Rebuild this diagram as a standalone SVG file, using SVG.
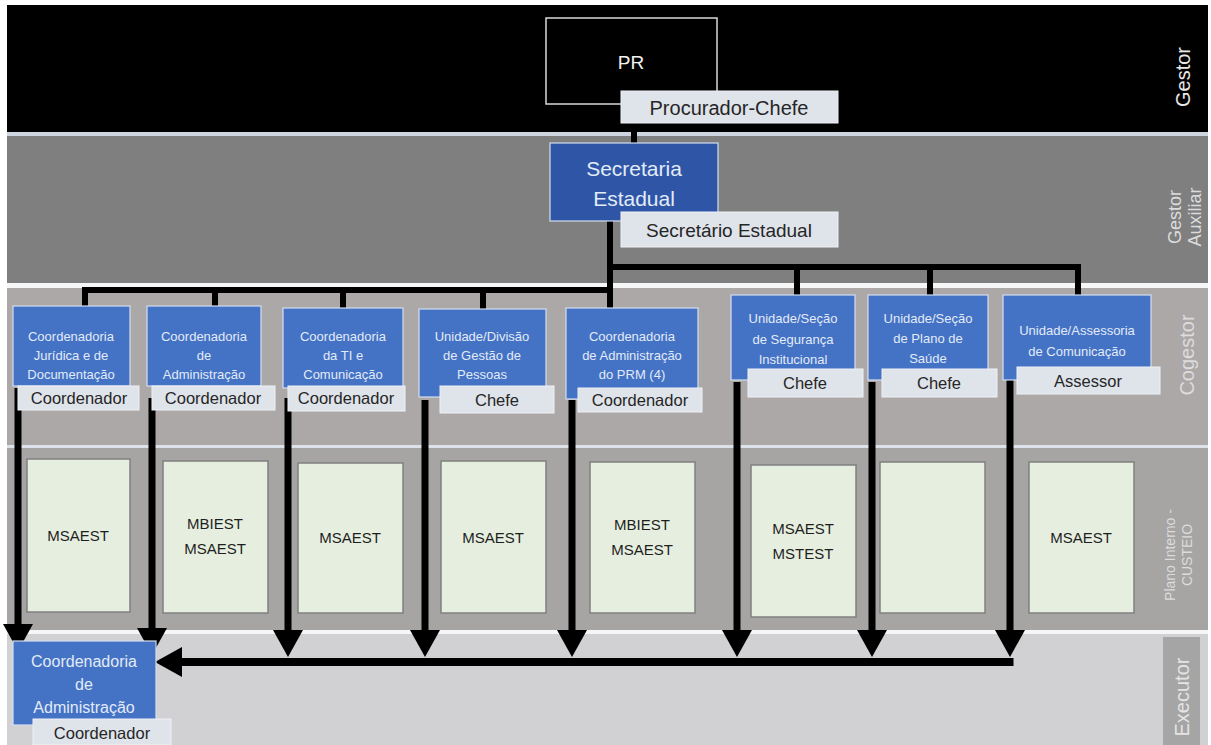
<svg xmlns="http://www.w3.org/2000/svg" width="1211" height="745" viewBox="0 0 1211 745">
<style>
.band-lbl{font-family:"Liberation Sans",Arial,sans-serif;fill:#dcdcdc;text-anchor:middle;dominant-baseline:central}
.bx{fill:#4472c4;stroke:#d3def1;stroke-width:1.2}
.bt{font-family:"Liberation Sans",Arial,sans-serif;font-size:13px;fill:#e2ebf8;text-anchor:middle;dominant-baseline:central}
.lb{fill:#dfe3ea;stroke:#eef1f5;stroke-width:1}
.lt{font-family:"Liberation Sans",Arial,sans-serif;font-size:16.5px;fill:#262626;text-anchor:middle;dominant-baseline:central}
.gb{fill:#e6efdf;stroke:#808080;stroke-width:1.5}
.gt{font-family:"Liberation Sans",Arial,sans-serif;font-size:15px;fill:#1e1e1e;text-anchor:middle;dominant-baseline:central}
.ln{stroke:#000;stroke-width:6;fill:none}
.ar{stroke:#000;stroke-width:7;fill:none;marker-end:url(#ah)}
</style>
<defs>
<marker id="ah" markerUnits="userSpaceOnUse" markerWidth="28" markerHeight="30" refX="0" refY="15" orient="auto" viewBox="0 0 28 30">
<path d="M0,0 L27,15 L0,30 Z" fill="#000"/>
</marker>
</defs>
<rect x="0" y="0" width="1211" height="745" fill="#ffffff"/>
<g id="bands">
<rect x="7" y="5" width="1201" height="127" fill="#000000"/>
<rect x="7" y="132" width="1201" height="4" fill="#cdd5e0"/>
<rect x="7" y="136" width="1201" height="147" fill="#7f7f7f"/>
<rect x="7" y="283" width="1201" height="5" fill="#f4f6f8"/>
<rect x="7" y="288" width="1201" height="157" fill="#aca8a8"/>
<rect x="7" y="445" width="1201" height="3" fill="#dde2ea"/>
<rect x="7" y="448" width="1201" height="182" fill="#a7a4a4"/>
<rect x="7" y="630" width="1201" height="4" fill="#f4f6f8"/>
<rect x="7" y="634" width="1201" height="111" fill="#d1d0d2"/>
<rect x="1163" y="637" width="37" height="108" fill="#a5a5a5"/>
<text class="band-lbl" style="font-size:20px;fill:#e8e8e8" transform="translate(1183,77) rotate(-90)">Gestor</text>
<text class="band-lbl" style="font-size:18px" transform="translate(1185,217) rotate(-90)"><tspan x="0" y="-10">Gestor</tspan><tspan x="0" y="10">Auxiliar</tspan></text>
<text class="band-lbl" style="font-size:20px" transform="translate(1187,355) rotate(-90)">Cogestor</text>
<text class="band-lbl" style="font-size:14px" transform="translate(1178,555) rotate(-90)"><tspan x="0" y="-8">Plano Interno -</tspan><tspan x="0" y="9">CUSTEIO</tspan></text>
<text class="band-lbl" style="font-size:20px;fill:#e4e4e4" transform="translate(1182,697) rotate(-90)">Executor</text>
</g>
<g id="connectors">
<path class="ln" d="M634,120 V146"/>
<path class="ln" d="M610,221 V308"/>
<path class="ln" d="M607,267 H1081"/>
<path class="ln" d="M797,267 V296 M930,267 V296 M1078,267 V296"/>
<path class="ln" d="M82,290 H613"/>
<path class="ln" d="M85,290 V307 M215,290 V307 M343,290 V309 M483,290 V310"/>
<path class="ar" d="M18,388 V624"/>
<path class="ar" d="M152,398 V628"/>
<path class="ar" d="M288,398 V630"/>
<path class="ar" d="M425,400 V630"/>
<path class="ar" d="M572,400 V630"/>
<path class="ar" d="M737,382 V630"/>
<path class="ar" d="M872,382 V630"/>
<path class="ar" d="M1010,380 V630"/>
<path d="M1013.5,662 H182" stroke="#000" stroke-width="8" fill="none" marker-end="url(#ah)"/>
</g>
<g id="pr">
<rect x="546" y="18" width="171" height="86" fill="#000" stroke="#d9d9d9" stroke-width="1.5"/>
<text x="631" y="62" font-family="Liberation Sans,Arial,sans-serif" font-size="19" fill="#f2f2f2" text-anchor="middle" dominant-baseline="central">PR</text>
<rect class="lb" x="621" y="91" width="217" height="32"/>
<text class="lt" x="729" y="108" style="font-size:20px">Procurador-Chefe</text>
</g>
<g id="secretaria">
<rect x="550" y="143" width="168" height="78" fill="#2f56a6" stroke="#d3def1" stroke-width="1.2"/>
<text class="bt" x="634" y="168" style="font-size:21px">Secretaria</text>
<text class="bt" x="634" y="198" style="font-size:21px">Estadual</text>
<rect class="lb" x="621" y="212" width="217" height="35"/>
<text class="lt" x="729" y="230" style="font-size:19px">Secretário Estadual</text>
</g>
<g id="coord-juridica">
<rect class="bx" x="13" y="306" width="117" height="80"/>
<text class="bt" x="71" y="336">Coordenadoria</text>
<text class="bt" x="71" y="355">Jurídica e de</text>
<text class="bt" x="71" y="374">Documentação</text>
<rect class="lb" x="18" y="386" width="121" height="24"/>
<text class="lt" x="79" y="398">Coordenador</text>
</g>
<g id="coord-admin">
<rect class="bx" x="147" y="306" width="114" height="80"/>
<text class="bt" x="204" y="336">Coordenadoria</text>
<text class="bt" x="204" y="355">de</text>
<text class="bt" x="204" y="374">Administração</text>
<rect class="lb" x="152" y="386" width="123" height="24"/>
<text class="lt" x="213" y="398">Coordenador</text>
</g>
<g id="coord-ti">
<rect class="bx" x="283" y="308" width="120" height="80"/>
<text class="bt" x="343" y="336">Coordenadoria</text>
<text class="bt" x="343" y="355">da TI e</text>
<text class="bt" x="343" y="374">Comunicação</text>
<rect class="lb" x="288" y="386" width="117" height="25"/>
<text class="lt" x="346" y="398">Coordenador</text>
</g>
<g id="unid-pessoas">
<rect class="bx" x="419" y="309" width="127" height="88"/>
<text class="bt" x="482" y="336">Unidade/Divisão</text>
<text class="bt" x="482" y="355">de Gestão de</text>
<text class="bt" x="482" y="374">Pessoas</text>
<rect class="lb" x="440" y="386" width="114" height="27"/>
<text class="lt" x="497" y="400">Chefe</text>
</g>
<g id="coord-prm">
<rect class="bx" x="566" y="308" width="132" height="91"/>
<text class="bt" x="632" y="336">Coordenadoria</text>
<text class="bt" x="632" y="355">de Administração</text>
<text class="bt" x="632" y="374">do PRM (4)</text>
<rect class="lb" x="578" y="388" width="124" height="24"/>
<text class="lt" x="640" y="400">Coordenador</text>
</g>
<g id="unid-seguranca">
<rect class="bx" x="731" y="295" width="124" height="85"/>
<text class="bt" x="793" y="318">Unidade/Seção</text>
<text class="bt" x="793" y="339">de Segurança</text>
<text class="bt" x="793" y="359">Institucional</text>
<rect class="lb" x="748" y="369" width="115" height="28"/>
<text class="lt" x="805" y="383">Chefe</text>
</g>
<g id="unid-saude">
<rect class="bx" x="868" y="295" width="120" height="85"/>
<text class="bt" x="928" y="318">Unidade/Seção</text>
<text class="bt" x="928" y="338">de Plano de</text>
<text class="bt" x="928" y="358">Saúde</text>
<rect class="lb" x="882" y="369" width="115" height="28"/>
<text class="lt" x="939" y="383">Chefe</text>
</g>
<g id="unid-comunicacao">
<rect class="bx" x="1003" y="295" width="148" height="85"/>
<text class="bt" x="1077" y="330">Unidade/Assessoria</text>
<text class="bt" x="1077" y="351">de Comunicação</text>
<rect class="lb" x="1017" y="367" width="143" height="27"/>
<text class="lt" x="1088" y="381">Assessor</text>
</g>
<g id="pi-1"><rect class="gb" x="27" y="459" width="103" height="153"/><text class="gt" x="78" y="535">MSAEST</text></g>
<g id="pi-2"><rect class="gb" x="163" y="461" width="105" height="152"/><text class="gt" x="215" y="523">MBIEST</text><text class="gt" x="215" y="548">MSAEST</text></g>
<g id="pi-3"><rect class="gb" x="298" y="463" width="105" height="150"/><text class="gt" x="350" y="537">MSAEST</text></g>
<g id="pi-4"><rect class="gb" x="441" y="461" width="105" height="152"/><text class="gt" x="493" y="537">MSAEST</text></g>
<g id="pi-5"><rect class="gb" x="590" y="462" width="105" height="151"/><text class="gt" x="642" y="524">MBIEST</text><text class="gt" x="642" y="549">MSAEST</text></g>
<g id="pi-6"><rect class="gb" x="751" y="465" width="105" height="152"/><text class="gt" x="803" y="528">MSAEST</text><text class="gt" x="803" y="553">MSTEST</text></g>
<g id="pi-7"><rect class="gb" x="880" y="462" width="105" height="151"/></g>
<g id="pi-8"><rect class="gb" x="1029" y="462" width="105" height="151"/><text class="gt" x="1081" y="537">MSAEST</text></g>
<g id="executor-coord">
<rect class="bx" x="13" y="641" width="143" height="84"/>
<text class="bt" x="84" y="661" style="font-size:16px">Coordenadoria</text>
<text class="bt" x="84" y="684" style="font-size:16px">de</text>
<text class="bt" x="84" y="707" style="font-size:16px">Administração</text>
<rect class="lb" x="33" y="719" width="138" height="26"/>
<text class="lt" x="102" y="733">Coordenador</text>
</g>
</svg>
